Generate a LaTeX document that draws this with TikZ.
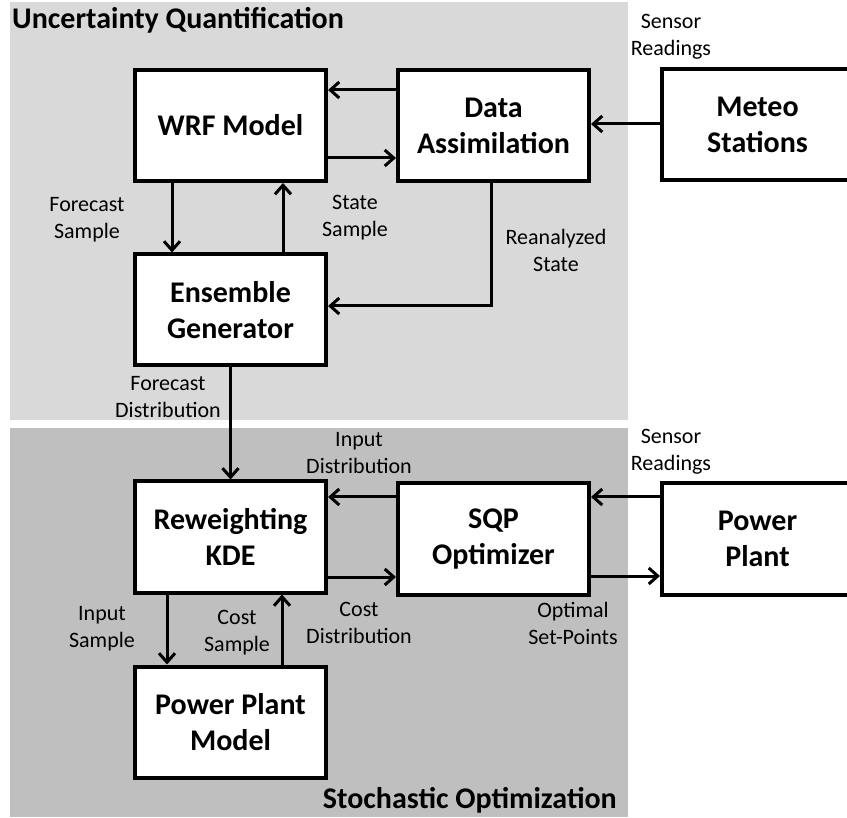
\documentclass[tikz,border=0pt]{standalone}
\usepackage{fontspec}
\setmainfont{Carlito}
\usetikzlibrary{arrows.meta}

\begin{document}
\begin{tikzpicture}[x=1pt, y=-1pt,
		block/.style={draw, line width=4pt, fill=white, minimum width=191pt, minimum height=111pt, align=center, inner sep=0pt, font=\fontsize{30}{36}\selectfont\bfseries},
		flow/.style={line width=3pt, -{Straight Barb[length=9pt,width=16pt]}},
		lbl/.style={align=center, inner sep=0pt, font=\fontsize{22}{27}\selectfont},
		heading/.style={inner sep=0pt, font=\fontsize{30}{36}\selectfont\bfseries}]
		%%%%% START %%%%%
		\useasboundingbox (0,0) rectangle (847,818);
		\clip (0,0) rectangle (847,818);
		\fill[white] (0,0) rectangle (847,818);
		
		\fill[black!15] (10,2) rectangle (628,420);
		\fill[black!25] (10,428) rectangle (628,817);
		
		\node[heading, anchor=west] (uq) at (12,20) {Uncertainty Quantification};
		\node[heading, anchor=east] (so) at (617,800) {Stochastic Optimization};
		
		\node[block] (wrf) at (230.5,125.5) {WRF Model};
		\node[block] (da) at (493.5,125.5) {Data\\Assimilation};
		\node[block] (meteo) at (757.5,125) {Meteo\\Stations};
		\node[block] (ens) at (230.5,310) {Ensemble\\Generator};
		
		\node[block] (kde) at (230.5,537) {Reweighting\\KDE};
		\node[block] (sqp) at (493.5,539) {SQP\\Optimizer};
		\node[block] (plant) at (757.5,539) {Power\\Plant};
		\node[block] (ppm) at (230.5,722) {Power Plant\\Model};
		
		\draw[flow] (da.west |- 0,90) -- (wrf.east |- 0,90);
		\draw[flow] (wrf.east |- 0,158) -- (da.west |- 0,158);
		\draw[flow] (meteo.west |- 0,124) -- (da.east |- 0,124);
		\draw[flow] (wrf.south -| 172,0) -- (ens.north -| 172,0);
		\draw[flow] (ens.north -| 283,0) -- (wrf.south -| 283,0);
		\draw[flow] (da.south -| 491,0) |- (ens.east |- 0,306);
		\draw[flow] (ens.south) -- (kde.north);
		
		\draw[flow] (sqp.west |- 0,497) -- (kde.east |- 0,497);
		\draw[flow] (kde.east |- 0,577) -- (sqp.west |- 0,577);
		\draw[flow] (plant.west |- 0,497) -- (sqp.east |- 0,497);
		\draw[flow] (sqp.east |- 0,576) -- (plant.west |- 0,576);
		\draw[flow] (kde.south -| 167,0) -- (ppm.north -| 167,0);
		\draw[flow] (ppm.north -| 282,0) -- (kde.south -| 282,0);
		
		\node[lbl] (fs) at (87,220) {Forecast\\Sample};
		\node[lbl] (ss) at (355,218) {State\\Sample};
		\node[lbl] (rs) at (556,250) {Reanalyzed\\State};
		\node[lbl] (sr1) at (671,37) {Sensor\\Readings};
		\node[lbl] (fd) at (168,397) {Forecast\\Distribution};
		\node[lbl] (id) at (359,453) {Input\\Distribution};
		\node[lbl] (sr2) at (671,452) {Sensor\\Readings};
		\node[lbl] (is) at (102,629) {Input\\Sample};
		\node[lbl] (cs) at (237,633) {Cost\\Sample};
		\node[lbl] (cd) at (359,623) {Cost\\Distribution};
		\node[lbl] (osp) at (573,623) {Optimal\\Set-Points};
		%%%%% END %%%%%
	\end{tikzpicture}
\end{document}
